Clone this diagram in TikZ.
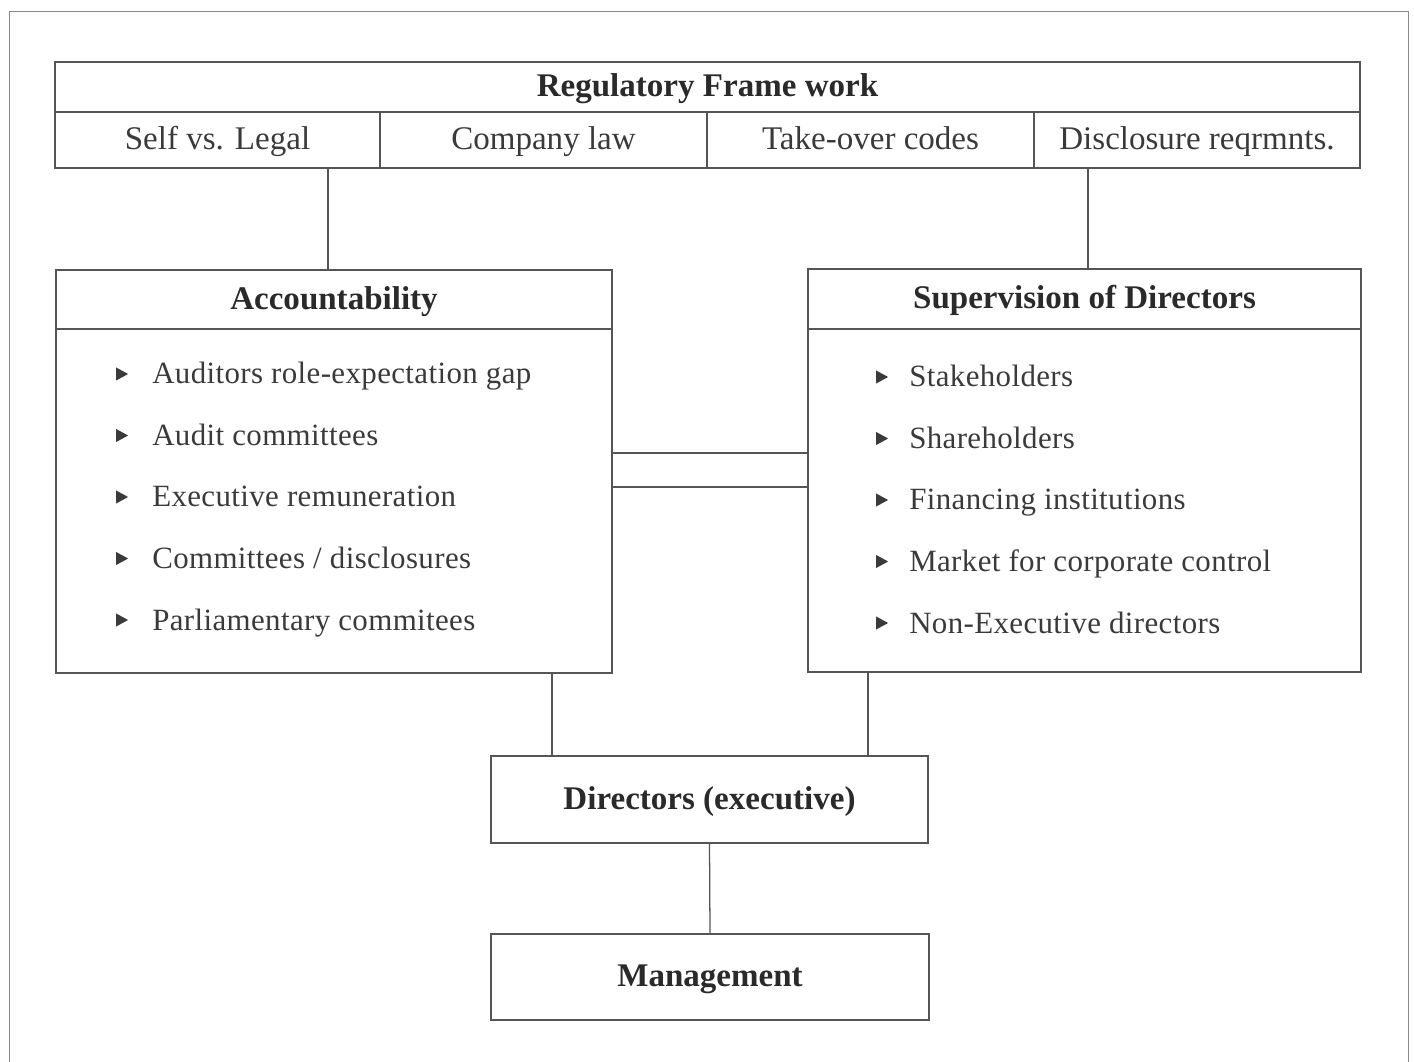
\documentclass[tikz,border=0pt]{standalone}
\usepackage{fontspec}
\setmainfont{Liberation Serif}
\usetikzlibrary{shapes.geometric}
\definecolor{ink}{HTML}{3A3A3A}
\definecolor{headink}{HTML}{2A2A2A}
\definecolor{rule}{HTML}{555555}
\definecolor{framegray}{HTML}{8A8A8A}
\newcommand\PX{0.025cm}
\begin{document}
\begin{tikzpicture}[x=0.025cm,y=-0.025cm,
  box/.style={draw=rule, line width=0.9pt, inner sep=0pt, outer sep=0pt, anchor=north west, text=ink,
    text height=16pt, text depth=1.8pt},
  head/.style={font=\fontsize{23.5}{26}\selectfont\bfseries, text=headink},
  cell/.style={font=\fontsize{23.5}{26}\selectfont, text=ink},
  item/.style={font=\fontsize{22}{24}\selectfont\addfontfeature{LetterSpace=1.2}, text=ink,
    anchor=base west, inner sep=0pt},
  bullet/.style={isosceles triangle, isosceles triangle stretches, fill=ink, draw=none,
    inner sep=0pt, minimum width=13*\PX, minimum height=12*\PX},
  link/.style={draw=rule, line width=0.9pt}]
\useasboundingbox (0,0) rectangle (1414,1062);

% outer frame (open at the bottom)
\draw[framegray, line width=0.6pt] (9,1062) -- (9,11) -- (1408,11) -- (1408,1062);

% regulatory framework table
\node[box, head, minimum width=1305*\PX, minimum height=50*\PX] (reg) at (55,62) {Regulatory Frame work};
\node[box, cell, minimum width=325*\PX, minimum height=56*\PX] (c1) at (55,112) {Self vs. Legal};
\node[box, cell, minimum width=327*\PX, minimum height=56*\PX] (c2) at (380,112) {Company law};
\node[box, cell, minimum width=327*\PX, minimum height=56*\PX] (c3) at (707,112) {Take-over codes};
\node[box, cell, minimum width=326*\PX, minimum height=56*\PX] (c4) at (1034,112) {Disclosure reqrmnts.};

% accountability
\node[box, head, minimum width=556*\PX, minimum height=59*\PX] (acch) at (56,270) {Accountability};
\node[box, minimum width=556*\PX, minimum height=344*\PX] (accb) at (56,329) {};
\foreach \t [count=\i] in {Auditors role-expectation gap, Audit committees,
    Executive remuneration, Committees / disclosures, Parliamentary commitees} {
  \node[bullet] (ab\i) at (120, {374+61.5*(\i-1)}) {};
  \node[item] (ai\i) at (152, {384+61.5*(\i-1)}) {\t};
}

% supervision of directors
\node[box, head, minimum width=553*\PX, minimum height=60*\PX] (suph) at (808,269) {Supervision of Directors};
\node[box, minimum width=553*\PX, minimum height=343*\PX] (supb) at (808,329) {};
\foreach \t [count=\i] in {Stakeholders, Shareholders, Financing institutions,
    Market for corporate control, Non-Executive directors} {
  \node[bullet] (sb\i) at (880, {377+61.5*(\i-1)}) {};
  \node[item] (si\i) at (909, {387+61.5*(\i-1)}) {\t};
}

% executive directors and management
\node[box, head, minimum width=437*\PX, minimum height=87*\PX] (dir) at (491,756) {Directors (executive)};
\node[box, head, minimum width=438*\PX, minimum height=86*\PX] (mgmt) at (491,934) {Management};

% connectors
\draw[link] ([xshift=-6*\PX]acch.north) -- ([xshift=-6*\PX]acch.north |- c1.south);
\draw[link] ([xshift=3.5*\PX]suph.north) -- ([xshift=3.5*\PX]suph.north |- c4.south);
\draw[link] ([yshift=48*\PX]accb.east) -- ([yshift=48*\PX]accb.east -| supb.west);
\draw[link] ([yshift=14*\PX]accb.east) -- ([yshift=14*\PX]accb.east -| supb.west);
\draw[link] ([xshift=-157.5*\PX]dir.north) -- ([xshift=-157.5*\PX]dir.north |- accb.south);
\draw[link] ([xshift=158.5*\PX]dir.north) -- ([xshift=158.5*\PX]dir.north |- supb.south);
\draw[link] (dir.south) -- (mgmt.north);
\end{tikzpicture}
\end{document}
